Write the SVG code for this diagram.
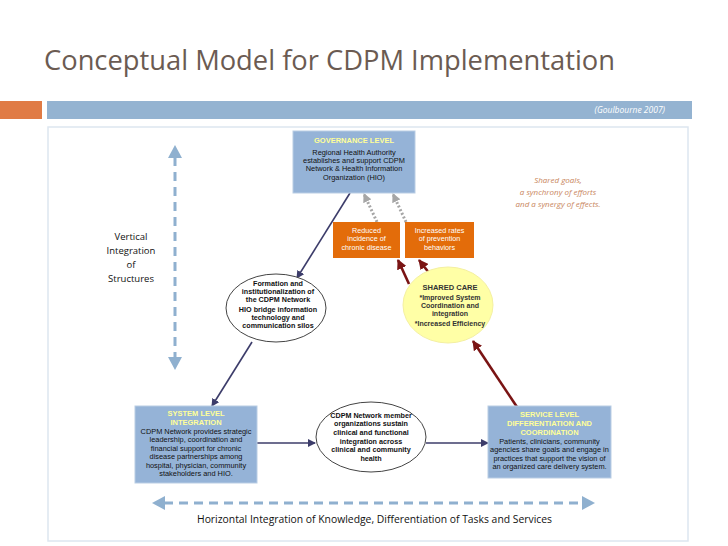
<svg xmlns="http://www.w3.org/2000/svg" width="728" height="546" viewBox="0 0 728 546">
<defs>
<style>
.t{font-family:"Liberation Sans",Arial,sans-serif;text-anchor:middle}
.g{font-family:"Open Sans","Liberation Sans",sans-serif}
.box{fill:#95b3d7;stroke:#b9cde4;stroke-width:1}
.hd{fill:#ffff99;font-weight:bold;font-size:7.5px}
.bd{fill:#111;font-size:7.4px}
.eb{fill:#111;font-size:7.2px;font-weight:bold}
.ow{fill:#fff;font-size:7.2px}
.nv{stroke:#3c3c6a;stroke-width:1.6;fill:none}
.rd{stroke:#7a1414;stroke-width:2.6;fill:none}
.gy{stroke:#a6a6a6;stroke-width:3;stroke-dasharray:2 2;fill:none}
.bl{stroke:#8fb0cf;stroke-width:3;stroke-dasharray:9 6;fill:none}
</style>
<marker id="mn" markerWidth="8" markerHeight="8" refX="7" refY="4" orient="auto" markerUnits="userSpaceOnUse"><path d="M0,0 L8,4 L0,8 Z" fill="#3c3c6a"/></marker>
<marker id="mr" markerWidth="10" markerHeight="10" refX="9" refY="5" orient="auto" markerUnits="userSpaceOnUse"><path d="M0,0 L10,5 L0,10 Z" fill="#7a1414"/></marker>
<marker id="mg" markerWidth="9" markerHeight="9" refX="8" refY="4.5" orient="auto" markerUnits="userSpaceOnUse"><path d="M0,0 L9,4.5 L0,9 Z" fill="#a6a6a6"/></marker>
</defs>
<rect width="728" height="546" fill="#fff"/>
<text x="44" y="70" class="g" font-size="28" fill="#6b5b52" textLength="571" lengthAdjust="spacingAndGlyphs">Conceptual Model for CDPM Implementation</text>
<rect x="0" y="101" width="42" height="18" fill="#e07b45"/>
<rect x="47" y="101" width="645" height="18" fill="#94b3d1"/>
<text x="665" y="113" class="g" font-size="8.5" font-style="italic" fill="#fff" text-anchor="end">(Goulbourne 2007)</text>
<rect x="48" y="127" width="640" height="414" fill="none" stroke="#dde6f0" stroke-width="1.5"/>

<g id="connectors">
<line x1="350" y1="193" x2="297" y2="278" class="nv" marker-end="url(#mn)"/>
<line x1="252" y1="342" x2="212" y2="406" class="nv" marker-end="url(#mn)"/>
<line x1="257" y1="443" x2="315" y2="443" class="nv" marker-end="url(#mn)"/>
<line x1="426" y1="443" x2="488" y2="443" class="nv" marker-end="url(#mn)"/>
<line x1="377" y1="222" x2="364" y2="194" class="gy" marker-end="url(#mg)"/>
<line x1="406" y1="222" x2="393" y2="194" class="gy" marker-end="url(#mg)"/>
<line x1="409" y1="284" x2="398" y2="260" class="rd" marker-end="url(#mr)"/>
<line x1="433" y1="278" x2="419" y2="260" class="rd" marker-end="url(#mr)"/>
<line x1="517" y1="407" x2="473" y2="341" class="rd" marker-end="url(#mr)"/>
<line x1="175" y1="157" x2="175" y2="358" class="bl"/>
<polygon points="175,145 168,158 182,158" fill="#8fb0cf"/>
<polygon points="175,370 168,357 182,357" fill="#8fb0cf"/>
<line x1="164" y1="503" x2="583" y2="503" class="bl"/>
<polygon points="152,503 165,496 165,510" fill="#8fb0cf"/>
<polygon points="595,503 582,496 582,510" fill="#8fb0cf"/>
</g>

<g id="governance">
<rect x="293" y="131" width="122" height="62" class="box"/>
<text class="t hd" x="354" y="143">GOVERNANCE LEVEL</text>
<text class="t bd" x="354" y="155">Regional Health Authority</text>
<text class="t bd" x="354" y="163">establishes and support CDPM</text>
<text class="t bd" x="354" y="171">Network &amp; Health Information</text>
<text class="t bd" x="354" y="180">Organization (HIO)</text>
</g>

<g id="reduced">
<rect x="333" y="222" width="67" height="36" fill="#e36c0a"/>
<text class="t ow" x="366.5" y="233">Reduced</text>
<text class="t ow" x="366.5" y="241">incidence of</text>
<text class="t ow" x="366.5" y="250">chronic disease</text>
</g>

<g id="increased">
<rect x="405" y="222" width="69" height="36" fill="#e36c0a"/>
<text class="t ow" x="439.5" y="233">Increased rates</text>
<text class="t ow" x="439.5" y="241">of prevention</text>
<text class="t ow" x="439.5" y="250">behaviors</text>
</g>

<g id="shared-goals">
<text class="g" font-size="8" font-style="italic" fill="#c8845a" text-anchor="middle" x="558" y="183">Shared goals,</text>
<text class="g" font-size="8" font-style="italic" fill="#c8845a" text-anchor="middle" x="558" y="195">a synchrony of efforts</text>
<text class="g" font-size="8" font-style="italic" fill="#c8845a" text-anchor="middle" x="558" y="207">and a synergy of effects.</text>
</g>

<g id="formation">
<ellipse cx="276" cy="308" rx="50" ry="34" fill="#fff" stroke="#444" stroke-width="1"/>
<text class="t eb" x="278" y="286">Formation and</text>
<text class="t eb" x="278" y="294">institutionalization of</text>
<text class="t eb" x="278" y="302">the CDPM Network</text>
<text class="t eb" x="278" y="312">HIO bridge information</text>
<text class="t eb" x="278" y="320">technology and</text>
<text class="t eb" x="278" y="328">communication silos</text>
</g>

<g id="shared-care">
<ellipse cx="448" cy="305" rx="45" ry="38" fill="#ffffa6" stroke="#f4f0a0" stroke-width="1"/>
<text class="t" x="450" y="290" font-size="7.5" font-weight="bold" fill="#333">SHARED CARE</text>
<text class="t" x="450" y="300" font-size="7" font-weight="bold" fill="#333">*Improved System</text>
<text class="t" x="450" y="308" font-size="7" font-weight="bold" fill="#333">Coordination and</text>
<text class="t" x="450" y="316" font-size="7" font-weight="bold" fill="#333">integration</text>
<text class="t" x="450" y="326" font-size="7" font-weight="bold" fill="#333">*Increased Efficiency</text>
</g>

<g id="vertical-label">
<text class="g" font-size="9.5" fill="#111" text-anchor="middle" x="131" y="240">Vertical</text>
<text class="g" font-size="9.5" fill="#111" text-anchor="middle" x="131" y="254">Integration</text>
<text class="g" font-size="9.5" fill="#111" text-anchor="middle" x="131" y="268">of</text>
<text class="g" font-size="9.5" fill="#111" text-anchor="middle" x="131" y="282">Structures</text>
</g>

<g id="system-level">
<rect x="135" y="406" width="122" height="77" class="box"/>
<text class="t hd" x="196" y="416">SYSTEM LEVEL</text>
<text class="t hd" x="196" y="425">INTEGRATION</text>
<text class="t bd" x="196" y="434">CDPM Network provides strategic</text>
<text class="t bd" x="196" y="442">leadership, coordination and</text>
<text class="t bd" x="196" y="451">financial support for chronic</text>
<text class="t bd" x="196" y="459">disease partnerships among</text>
<text class="t bd" x="196" y="468">hospital, physician, community</text>
<text class="t bd" x="196" y="476">stakeholders and HIO.</text>
</g>

<g id="cdpm-network">
<ellipse cx="371" cy="437" rx="55" ry="35" fill="#fff" stroke="#444" stroke-width="1"/>
<text class="t eb" x="371" y="418">CDPM Network member</text>
<text class="t eb" x="371" y="426">organizations sustain</text>
<text class="t eb" x="371" y="435">clinical and functional</text>
<text class="t eb" x="371" y="444">integration across</text>
<text class="t eb" x="371" y="452">clinical and community</text>
<text class="t eb" x="371" y="461">health</text>
</g>

<g id="service-level">
<rect x="488" y="406" width="123" height="72" class="box"/>
<text class="t hd" x="549.5" y="417">SERVICE LEVEL</text>
<text class="t hd" x="549.5" y="426">DIFFERENTIATION AND</text>
<text class="t hd" x="549.5" y="435">COORDINATION</text>
<text class="t bd" x="549.5" y="444">Patients, clinicians, community</text>
<text class="t bd" x="549.5" y="452">agencies share goals and engage in</text>
<text class="t bd" x="549.5" y="461">practices that support the vision of</text>
<text class="t bd" x="549.5" y="469">an organized care delivery system.</text>
</g>

<g id="horizontal-label">
<text class="g" font-size="10" fill="#111" x="197" y="523" textLength="355" lengthAdjust="spacingAndGlyphs">Horizontal Integration of Knowledge, Differentiation of Tasks and Services</text>
</g>
</svg>
